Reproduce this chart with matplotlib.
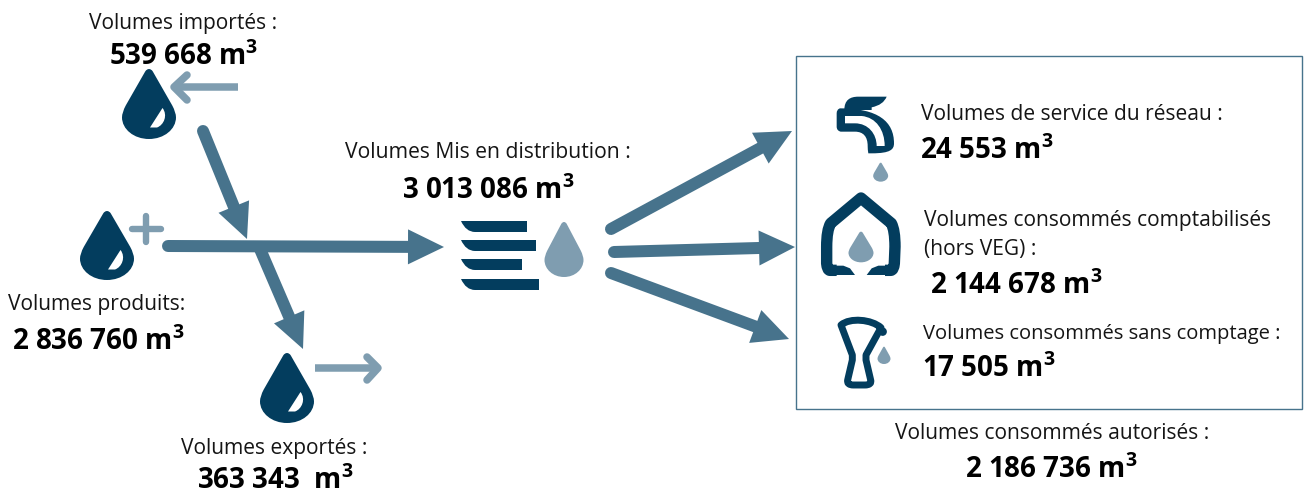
import matplotlib
matplotlib.use("Agg")
import numpy as np
import matplotlib.pyplot as plt
from matplotlib.path import Path
from matplotlib.patches import PathPatch, Polygon, Rectangle, Circle

plt.rcParams['font.family'] = ['Open Sans', 'DejaVu Sans']
plt.rcParams['mathtext.fontset'] = 'custom'
plt.rcParams['mathtext.bf'] = 'Open Sans:bold'
plt.rcParams['mathtext.rm'] = 'Open Sans'

DARK = '#033D5E'
MID = '#47738C'
LIGHT = '#7F9DB0'

# Text content: (text, x-left px, baseline px)
labels = [
    ("Volumes importés :", 89, 29),
    ("Volumes Mis en distribution :", 345, 158),
    ("Volumes produits:", 8, 310),
    ("Volumes exportés :", 181, 454),
    ("Volumes de service du réseau :", 921, 120),
    ("Volumes consommés comptabilisés", 924, 226),
    ("(hors VEG) :", 924, 255),
    ("Volumes consommés sans comptage :", 923, 339),
    ("Volumes consommés autorisés :", 895, 439),
]
values = [
    ("539 668 m", 109, 65),
    ("3 013 086 m", 402, 199),
    ("2 836 760 m", 12, 350),
    ("363 343  m", 197, 489),
    ("24 553 m", 920, 159),
    ("2 144 678 m", 930, 294),
    ("17 505 m", 922, 377),
    ("2 186 736 m", 965, 478),
]
label_size_overrides = {"Volumes consommés sans comptage :": 14.5,
                        "Volumes Mis en distribution :": 15.25}

fig = plt.figure(figsize=(13.04, 4.95), dpi=100)
ax = fig.add_axes([0, 0, 1, 1])
ax.set_xlim(0, 1304)
ax.set_ylim(495, 0)
ax.axis('off')


def drop(cx, top, bottom, width, color, highlight=False, z=3):
    h = bottom - top
    pts = [(-0.07, 0.035), (-0.03, -0.012), (0.03, -0.012), (0.07, 0.035),
           (0.43, 0.52), (0.5, 0.62), (0.5, 0.69),
           (0.5, 0.86), (0.28, 1.0), (0, 1.0),
           (-0.28, 1.0), (-0.5, 0.86), (-0.5, 0.69),
           (-0.5, 0.62), (-0.43, 0.52), (-0.07, 0.035), (-0.07, 0.035)]
    codes = [Path.MOVETO] + [Path.CURVE4] * 3 + [Path.LINETO] + [Path.CURVE3] * 2 + \
            [Path.CURVE4] * 6 + [Path.CURVE3] * 2 + [Path.LINETO, Path.CLOSEPOLY]
    codes = codes[:len(pts)]
    v = [(cx + x * width, top + y * h) for x, y in pts]
    ax.add_patch(PathPatch(Path(v, codes), fc=color, ec='none', zorder=z))
    if highlight:
        hv = [(cx + 13.5, top + 39), (cx + 1, top + 58.5), (cx + 8, top + 58.5),
              (cx + 15, top + 56), (cx + 19, top + 46), (cx + 13.5, top + 39), (cx + 13.5, top + 39)]
        hc = [Path.MOVETO, Path.LINETO, Path.LINETO, Path.CURVE4, Path.CURVE4, Path.CURVE4, Path.CLOSEPOLY]
        ax.add_patch(PathPatch(Path(hv, hc), fc='white', ec='none', zorder=z + 1))


def arrow(x0, y0, x1, y1, lw=12, head_w=35, head_l=36, color=MID):
    d = np.array([x1 - x0, y1 - y0], float)
    u = d / np.hypot(*d)
    n = np.array([-u[1], u[0]])
    tip = np.array([x1, y1], float)
    base = tip - u * head_l
    ax.plot([x0, base[0] + u[0]], [y0, base[1] + u[1]], color=color, lw=lw * 0.72,
            solid_capstyle='round', zorder=2)
    ax.add_patch(Polygon([tip, base + n * head_w / 2, base - n * head_w / 2],
                         fc=color, ec='none', zorder=2))


# flow arrows
arrow(203, 131, 247, 239, head_w=33, head_l=35)
arrow(260, 249, 303, 349, head_w=33, head_l=35)
arrow(168, 246, 444, 247)
arrow(611, 229, 792, 131)
arrow(614, 252, 795, 247)
arrow(611, 273, 789, 339)

# droplets with highlights
drop(149, 69, 139, 54, DARK, True)
drop(107, 211, 280, 54, DARK, True)
drop(287, 353, 423, 54, DARK, True)

# import arrow
ax.plot([238, 176], [87, 87], color=LIGHT, lw=5.4, solid_capstyle='butt', zorder=2)
ax.plot([187, 174, 187], [75, 87, 100], color=LIGHT, lw=5.4, solid_capstyle='round',
        solid_joinstyle='round', zorder=2)
# export arrow
ax.plot([315, 376], [368, 368], color=LIGHT, lw=5.4, solid_capstyle='butt', zorder=2)
ax.plot([367, 378, 367], [357, 368, 380], color=LIGHT, lw=5.4, solid_capstyle='round',
        solid_joinstyle='round', zorder=2)
# plus
ax.plot([132, 161], [229, 229], color=LIGHT, lw=4.6, solid_capstyle='round', zorder=2)
ax.plot([146, 146], [216, 242], color=LIGHT, lw=4.6, solid_capstyle='round', zorder=2)

# centre icon: bars + droplet
for x1, y0, y1 in [(527, 221, 232), (536, 240, 251), (522, 259, 270), (539, 279, 290)]:
    v = [(461, y0), (x1, y0), (x1, y1), (475, y1), (466, y1), (461, y0), (461, y0)]
    c = [Path.MOVETO, Path.LINETO, Path.LINETO, Path.LINETO, Path.CURVE3, Path.CURVE3, Path.CLOSEPOLY]
    ax.add_patch(PathPatch(Path(v, c), fc=DARK, ec='none', zorder=3))
drop(564, 222, 277, 39, LIGHT)

# box
ax.add_patch(Rectangle((796, 56), 506, 353, fc='none', ec=MID, lw=1.0, zorder=1))


def Z(x, y):
    return (800 + x / 3, 60 + y / 3)


# tap icon
tap = [Z(*p) for p in [(120, 145), (235, 145), (282, 185), (282, 250), (282, 268), (272, 280),
                       (215, 280), (205, 280), (203, 270), (203, 258), (203, 230), (190, 215), (165, 215),
                       (122, 215), (110, 212), (110, 200), (110, 160), (110, 148), (120, 145), (120, 145)]]
tapc = [Path.MOVETO, Path.CURVE4, Path.CURVE4, Path.CURVE4, Path.CURVE4, Path.CURVE4, Path.CURVE4,
        Path.LINETO, Path.CURVE3, Path.CURVE3, Path.CURVE4, Path.CURVE4, Path.CURVE4,
        Path.LINETO, Path.CURVE3, Path.CURVE3, Path.LINETO, Path.CURVE3, Path.CURVE3, Path.CLOSEPOLY]
ax.add_patch(PathPatch(Path(tap, tapc), fc=DARK, ec='none', zorder=3))
hole = [Z(*p) for p in [(135, 168), (185, 168), (228, 172), (254, 210), (254, 258), (230, 258),
                        (230, 222), (205, 190), (165, 190), (135, 190), (135, 168), (135, 168)]]
holec = [Path.MOVETO, Path.LINETO, Path.CURVE4, Path.CURVE4, Path.CURVE4, Path.LINETO,
         Path.CURVE4, Path.CURVE4, Path.CURVE4, Path.LINETO, Path.LINETO, Path.CLOSEPOLY]
ax.add_patch(PathPatch(Path(hole, holec), fc='white', ec='none', zorder=4))
leaf = [Z(*p) for p in [(133, 150), (133, 120), (150, 110), (175, 110), (260, 110),
                        (250, 135), (215, 142), (215, 150), (133, 150)]]
leafc = [Path.MOVETO, Path.CURVE4, Path.CURVE4, Path.CURVE4, Path.LINETO,
         Path.CURVE3, Path.CURVE3, Path.LINETO, Path.CLOSEPOLY]
ax.add_patch(PathPatch(Path(leaf, leafc), fc=DARK, ec='none', zorder=3))
drop(800 + 242 / 3, 60 + 308 / 3, 60 + 365 / 3, 15, LIGHT)

# house icon
house = [Z(*p) for p in [(110, 631), (90, 631), (82, 631), (80, 610),
                         (80, 560), (80, 510), (92, 490), (183, 414), (274, 490), (285, 510),
                         (285, 560), (283, 610), (281, 631), (272, 631), (255, 631)]]
housec = [Path.MOVETO, Path.LINETO, Path.CURVE3, Path.CURVE3,
          Path.LINETO, Path.CURVE3, Path.CURVE3, Path.LINETO, Path.LINETO, Path.CURVE3, Path.CURVE3,
          Path.LINETO, Path.CURVE3, Path.CURVE3, Path.LINETO]
ax.add_patch(PathPatch(Path(house, housec), fc='none', ec=DARK, lw=8.2, capstyle='butt',
                       joinstyle='round', zorder=3))
for pts in ([(100, 617), (130, 617), (150, 625), (165, 645), (100, 645)],
            [(265, 617), (235, 617), (215, 625), (200, 645), (265, 645)]):
    ax.add_patch(Polygon([Z(*p) for p in pts], fc=DARK, ec='none', zorder=3))
drop(800 + 183 / 3, 60 + 515 / 3, 60 + 607 / 3, 25, LIGHT)

# hand-pump / valve icon
valve = [Z(*p) for p in [(123, 795), (150, 772), (215, 778), (243, 803), (198, 885), (198, 900),
                         (212, 960), (216, 975), (195, 975), (160, 975), (140, 975), (143, 960),
                         (157, 900), (157, 885), (123, 795), (123, 795)]]
valvec = [Path.MOVETO, Path.CURVE4, Path.CURVE4, Path.CURVE4, Path.LINETO, Path.LINETO, Path.LINETO,
          Path.CURVE3, Path.CURVE3, Path.LINETO, Path.CURVE3, Path.CURVE3, Path.LINETO, Path.LINETO,
          Path.LINETO, Path.CLOSEPOLY]
ax.add_patch(PathPatch(Path(valve, valvec), fc='none', ec=DARK, lw=5, joinstyle='round', zorder=3))
cx, cy = Z(248, 815)
ax.add_patch(Circle((cx, cy), 4.2, fc=DARK, ec='none', zorder=3))
drop(800 + 252 / 3, 60 + 860 / 3, 60 + 912 / 3, 13, LIGHT)

# text
for s, x, y in labels:
    ax.text(x, y, s, fontsize=label_size_overrides.get(s, 15.1), color='#151515',
            ha='left', va='baseline', zorder=5)
for s, x, y in values:
    ax.text(x, y, s + r"$^{\mathbf{3}}$", fontsize=20, fontweight='bold', color='black',
            ha='left', va='baseline', zorder=5)

fig.savefig('out.png', dpi=100)
